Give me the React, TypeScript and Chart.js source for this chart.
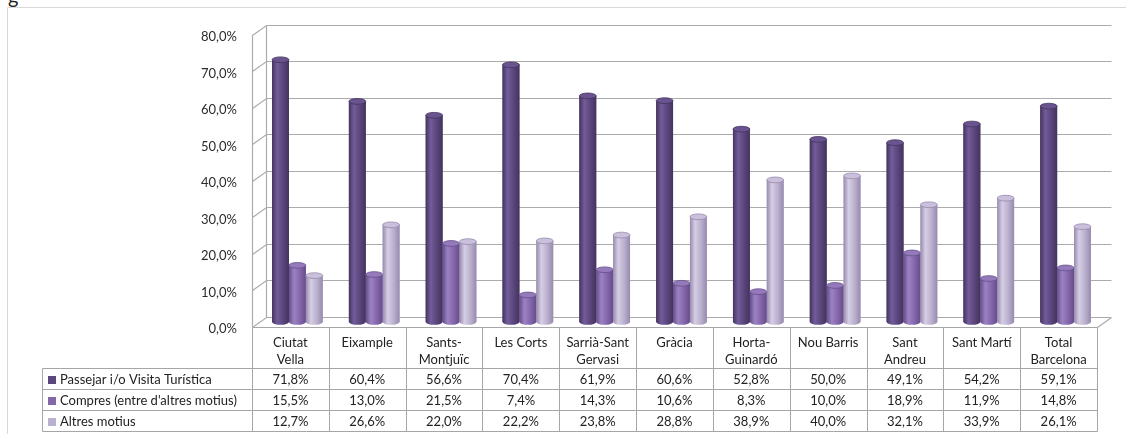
import React, { useEffect, useRef } from "react";
import { Chart, registerables } from "chart.js";

Chart.register(...registerables);

const categories: string[][] = [
  ["Ciutat", "Vella"],
  ["Eixample"],
  ["Sants-", "Montjuïc"],
  ["Les Corts"],
  ["Sarrià-Sant", "Gervasi"],
  ["Gràcia"],
  ["Horta-", "Guinardó"],
  ["Nou Barris"],
  ["Sant", "Andreu"],
  ["Sant Martí"],
  ["Total", "Barcelona"],
];
const seriesNames = [
  "Passejar i/o Visita Turística",
  "Compres (entre d'altres motius)",
  "Altres motius",
];
const passejar = [71.8, 60.4, 56.6, 70.4, 61.9, 60.6, 52.8, 50.0, 49.1, 54.2, 59.1];
const compres = [15.5, 13.0, 21.5, 7.4, 14.3, 10.6, 8.3, 10.0, 18.9, 11.9, 14.8];
const altres = [12.7, 26.6, 22.0, 22.2, 23.8, 28.8, 38.9, 40.0, 32.1, 33.9, 26.1];
const yMin = 0;
const yMax = 80;
const yStep = 10;

const palettes = [
  { base: "#5b467d", edge: "#43345d", hi: "#735c9a", cap: "#6a5490" },
  { base: "#8467ab", edge: "#654d8a", hi: "#9c82c3", cap: "#947abb" },
  { base: "#bbb0cf", edge: "#978aae", hi: "#d6cee4", cap: "#cac0db" },
];

const FONT = "Lato, 'Open Sans', sans-serif";
const DX = 7;
const DY = 5;

const fmt = (v: number) => v.toFixed(1).replace(".", ",") + "%";

const frame3d = {
  id: "frame3d",
  beforeDatasetsDraw(chart: any) {
    const { ctx, chartArea: a, scales } = chart;
    const y = scales.y;
    ctx.save();
    ctx.strokeStyle = "#ababab";
    ctx.lineWidth = 1.2;
    const fl = Math.round(a.left - DX) + 0.5;
    const bl = Math.round(a.left + DX) + 0.5;
    const br = Math.round(a.right + DX) + 0.5;
    const fr = Math.round(a.right - DX) + 0.5;
    ctx.beginPath();
    for (const t of y.ticks) {
      const ym = y.getPixelForValue(t.value);
      ctx.moveTo(fl, Math.round(ym + DY) + 0.5);
      ctx.lineTo(bl, Math.round(ym - DY) + 0.5);
      ctx.lineTo(br, Math.round(ym - DY) + 0.5);
    }
    const yTop = y.getPixelForValue(yMax);
    const y0 = y.getPixelForValue(yMin);
    ctx.moveTo(fl, Math.round(yTop + DY) + 0.5);
    ctx.lineTo(fl, Math.round(y0 + DY) + 0.5);
    ctx.moveTo(bl, Math.round(yTop - DY) + 0.5);
    ctx.lineTo(bl, Math.round(y0 - DY) + 0.5);
    ctx.moveTo(fr, Math.round(y0 + DY) + 0.5);
    ctx.lineTo(br, Math.round(y0 - DY) + 0.5);
    ctx.stroke();
    ctx.restore();
  },
  afterDatasetsDraw(chart: any) {
    const ctx = chart.ctx;
    chart.data.datasets.forEach((_ds: any, i: number) => {
      const pal = palettes[i];
      chart.getDatasetMeta(i).data.forEach((el: any) => {
        const { x, y, base, width } = el.getProps(["x", "y", "base", "width"], true);
        const l = x - width / 2;
        const r = x + width / 2;
        const ry = Math.max(2, width * 0.17);
        const g = ctx.createLinearGradient(l, 0, r, 0);
        g.addColorStop(0, pal.edge);
        g.addColorStop(0.3, pal.hi);
        g.addColorStop(0.65, pal.base);
        g.addColorStop(1, pal.edge);
        ctx.save();
        ctx.fillStyle = g;
        ctx.beginPath();
        ctx.moveTo(l, y);
        ctx.lineTo(l, base);
        ctx.ellipse(x, base, width / 2, ry, 0, Math.PI, 0, true);
        ctx.lineTo(r, y);
        ctx.closePath();
        ctx.fill();
        ctx.beginPath();
        ctx.ellipse(x, y, width / 2, ry, 0, 0, Math.PI * 2);
        ctx.fillStyle = pal.cap;
        ctx.fill();
        ctx.strokeStyle = pal.edge;
        ctx.lineWidth = 0.8;
        ctx.stroke();
        ctx.restore();
      });
    });
  },
};

const dataTable = {
  id: "dataTable",
  afterDraw(chart: any) {
    const { ctx, chartArea: a, scales } = chart;
    const x = scales.x;
    const y = scales.y;
    const n = categories.length;
    const w = (a.right - a.left) / n;
    const colLeft = (i: number) => x.getPixelForValue(i) - DX - w / 2;
    const headerTop = Math.round(y.getPixelForValue(yMin) + DY) + 0.5;
    const headerBottom = headerTop + 41;
    const rowH = 21;
    const legendLeft = 42.5;
    const series = [passejar, compres, altres];
    const tableBottom = headerBottom + rowH * series.length;

    ctx.save();
    ctx.strokeStyle = "#d9d9d9";
    ctx.lineWidth = 1;
    ctx.beginPath();
    ctx.moveTo(7.5, chart.height);
    ctx.lineTo(7.5, 7.5);
    ctx.lineTo(chart.width, 7.5);
    ctx.stroke();

    ctx.strokeStyle = "#a6a6a6";
    ctx.beginPath();
    const left0 = Math.round(colLeft(0)) + 0.5;
    const rightN = Math.round(colLeft(n)) + 0.5;
    ctx.moveTo(left0, headerTop);
    ctx.lineTo(rightN, headerTop);
    for (let r = 0; r <= series.length; r++) {
      const yy = headerBottom + r * rowH;
      ctx.moveTo(legendLeft, yy);
      ctx.lineTo(rightN, yy);
    }
    ctx.moveTo(legendLeft, headerBottom);
    ctx.lineTo(legendLeft, tableBottom);
    for (let i = 0; i <= n; i++) {
      const xx = Math.round(colLeft(i)) + 0.5;
      ctx.moveTo(xx, headerTop);
      ctx.lineTo(xx, tableBottom);
    }
    ctx.stroke();

    ctx.fillStyle = "#222222";
    ctx.font = `13px ${FONT}`;
    ctx.textAlign = "center";
    ctx.textBaseline = "middle";
    categories.forEach((lines, i) => {
      const cx = colLeft(i) + w / 2;
      lines.forEach((ln, k) => ctx.fillText(ln, cx, headerTop + 15 + k * 17));
    });
    series.forEach((vals, r) => {
      const cy = headerBottom + r * rowH + rowH / 2 + 0.5;
      vals.forEach((v, i) => ctx.fillText(fmt(v), colLeft(i) + w / 2, cy));
      ctx.fillStyle = palettes[r].base;
      ctx.fillRect(48, Math.round(cy - 4), 8, 8);
      ctx.fillStyle = "#222222";
      ctx.textAlign = "left";
      ctx.fillText(seriesNames[r], 60, cy);
      ctx.textAlign = "center";
    });
    ctx.restore();
  },
};

export default function App() {
  const ref = useRef<HTMLCanvasElement | null>(null);
  useEffect(() => {
    if (!ref.current) return;
    const series = [passejar, compres, altres];
    const chart = new Chart(ref.current, {
      type: "bar",
      data: {
        labels: categories.map((c) => c.join(" ")),
        datasets: series.map((vals, i) => ({
          label: seriesNames[i],
          data: vals,
          backgroundColor: palettes[i].base,
          borderWidth: 0,
          barPercentage: 1,
          categoryPercentage: 0.66,
        })),
      },
      options: {
        responsive: false,
        animation: false,
        layout: { padding: { top: 29, bottom: 112, left: 0, right: 22 } },
        plugins: { legend: { display: false }, tooltip: { enabled: false }, title: { display: false } },
        scales: {
          x: { display: false, grid: { display: false } },
          y: {
            min: yMin,
            max: yMax,
            border: { display: false },
            grid: { display: false, drawTicks: false },
            ticks: {
              stepSize: yStep,
              padding: 22,
              labelOffset: 7,
              color: "#2b2b2b",
              font: { family: FONT, size: 13 },
              callback: (v: any) => fmt(Number(v)),
            },
            afterFit: (s: any) => {
              s.width = 259;
            },
          },
        },
      },
      plugins: [frame3d, dataTable],
    });
    return () => chart.destroy();
  }, []);
  return (
    <div style={{ position: "fixed", left: 0, top: 0, width: 1126, height: 434, background: "#fff", overflow: "hidden" }}>
      <span style={{ position: "absolute", left: 8, top: -16, fontFamily: FONT, fontSize: 20, color: "#222" }}>g</span>
      <canvas ref={ref} width={1126} height={434} style={{ position: "absolute", left: 0, top: 0 }} />
    </div>
  );
}
